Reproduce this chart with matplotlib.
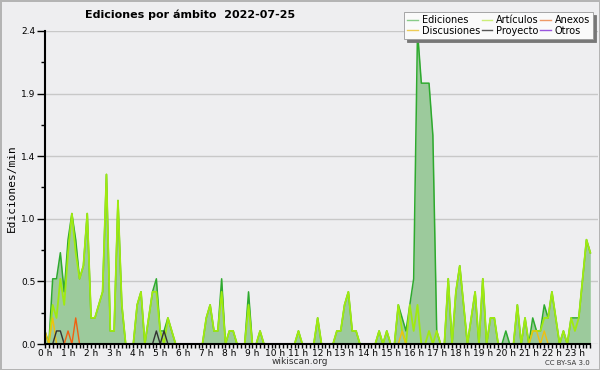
import numpy as np
import matplotlib
matplotlib.use("Agg")
import matplotlib.pyplot as plt
from matplotlib.lines import Line2D
from matplotlib.ticker import FixedLocator, FormatStrFormatter, MultipleLocator

# edits per minute, 10-minute buckets, 2022-07-25 (one row per hour)
ediciones = [
    0.1, 0.0, 0.5, 0.5, 0.7, 0.4,
    0.8, 1.0, 0.8, 0.5, 0.6, 1.0,
    0.2, 0.2, 0.3, 0.4, 1.3, 0.1,
    0.1, 1.1, 0.3, 0.0, 0.0, 0.0,
    0.3, 0.4, 0.0, 0.2, 0.4, 0.5,
    0.1, 0.1, 0.2, 0.1, 0.0, 0.0,
    0.0, 0.0, 0.0, 0.0, 0.0, 0.0,
    0.2, 0.3, 0.1, 0.1, 0.5, 0.0,
    0.1, 0.1, 0.0, 0.0, 0.0, 0.4,
    0.0, 0.0, 0.1, 0.0, 0.0, 0.0,
    0.0, 0.0, 0.0, 0.0, 0.0, 0.0,
    0.1, 0.0, 0.0, 0.0, 0.0, 0.2,
    0.0, 0.0, 0.0, 0.0, 0.1, 0.1,
    0.3, 0.4, 0.1, 0.1, 0.0, 0.0,
    0.0, 0.0, 0.0, 0.1, 0.0, 0.1,
    0.0, 0.0, 0.3, 0.2, 0.1, 0.3,
    0.5, 2.4, 2.0, 2.0, 2.0, 1.6,
    0.1, 0.0, 0.0, 0.5, 0.0, 0.4,
    0.6, 0.3, 0.0, 0.2, 0.4, 0.0,
    0.5, 0.0, 0.2, 0.2, 0.0, 0.0,
    0.1, 0.0, 0.0, 0.3, 0.0, 0.2,
    0.0, 0.2, 0.1, 0.1, 0.3, 0.2,
    0.4, 0.2, 0.0, 0.1, 0.0, 0.2,
    0.2, 0.2, 0.5, 0.8, 0.7,
]
articulos = [
    0.0, 0.0, 0.3, 0.2, 0.5, 0.3,
    0.7, 1.0, 0.7, 0.5, 0.6, 1.0,
    0.2, 0.2, 0.3, 0.4, 1.3, 0.1,
    0.1, 1.1, 0.3, 0.0, 0.0, 0.0,
    0.3, 0.4, 0.0, 0.2, 0.4, 0.4,
    0.1, 0.0, 0.2, 0.1, 0.0, 0.0,
    0.0, 0.0, 0.0, 0.0, 0.0, 0.0,
    0.2, 0.3, 0.1, 0.1, 0.4, 0.0,
    0.1, 0.1, 0.0, 0.0, 0.0, 0.3,
    0.0, 0.0, 0.1, 0.0, 0.0, 0.0,
    0.0, 0.0, 0.0, 0.0, 0.0, 0.0,
    0.1, 0.0, 0.0, 0.0, 0.0, 0.2,
    0.0, 0.0, 0.0, 0.0, 0.1, 0.1,
    0.3, 0.4, 0.1, 0.1, 0.0, 0.0,
    0.0, 0.0, 0.0, 0.1, 0.0, 0.1,
    0.0, 0.0, 0.3, 0.1, 0.0, 0.3,
    0.1, 0.3, 0.0, 0.0, 0.1, 0.0,
    0.1, 0.0, 0.0, 0.5, 0.0, 0.4,
    0.6, 0.3, 0.0, 0.2, 0.4, 0.0,
    0.5, 0.0, 0.2, 0.2, 0.0, 0.0,
    0.0, 0.0, 0.0, 0.3, 0.0, 0.2,
    0.0, 0.1, 0.1, 0.1, 0.2, 0.2,
    0.4, 0.2, 0.0, 0.1, 0.0, 0.2,
    0.1, 0.2, 0.5, 0.8, 0.7,
]
discusiones = [
    0.1, 0.0, 0.2, 0.0, 0.0, 0.0,
    0.0, 0.0, 0.0, 0.0, 0.0, 0.0,
    0.0, 0.0, 0.0, 0.0, 0.0, 0.0,
    0.0, 0.0, 0.0, 0.0, 0.0, 0.0,
    0.0, 0.0, 0.0, 0.0, 0.0, 0.0,
    0.0, 0.0, 0.0, 0.0, 0.0, 0.0,
    0.0, 0.0, 0.0, 0.0, 0.0, 0.0,
    0.0, 0.0, 0.0, 0.0, 0.0, 0.0,
    0.0, 0.0, 0.0, 0.0, 0.0, 0.0,
    0.0, 0.0, 0.0, 0.0, 0.0, 0.0,
    0.0, 0.0, 0.0, 0.0, 0.0, 0.0,
    0.0, 0.0, 0.0, 0.0, 0.0, 0.0,
    0.0, 0.0, 0.0, 0.0, 0.0, 0.0,
    0.0, 0.0, 0.0, 0.0, 0.0, 0.0,
    0.0, 0.0, 0.0, 0.0, 0.0, 0.0,
    0.0, 0.0, 0.0, 0.1, 0.0, 0.0,
    0.0, 0.0, 0.0, 0.0, 0.0, 0.0,
    0.0, 0.0, 0.0, 0.0, 0.0, 0.0,
    0.0, 0.0, 0.0, 0.0, 0.0, 0.0,
    0.0, 0.0, 0.0, 0.0, 0.0, 0.0,
    0.0, 0.0, 0.0, 0.0, 0.0, 0.0,
    0.0, 0.1, 0.1, 0.0, 0.1, 0.0,
    0.0, 0.0, 0.0, 0.0, 0.0, 0.0,
    0.0, 0.0, 0.0, 0.0, 0.0,
]
proyecto = [
    0.0, 0.0, 0.0, 0.1, 0.1, 0.0,
    0.0, 0.0, 0.0, 0.0, 0.0, 0.0,
    0.0, 0.0, 0.0, 0.0, 0.0, 0.0,
    0.0, 0.0, 0.0, 0.0, 0.0, 0.0,
    0.0, 0.0, 0.0, 0.0, 0.0, 0.1,
    0.0, 0.1, 0.0, 0.0, 0.0, 0.0,
] + [0.0] * 107
anexos = [
    0.0, 0.0, 0.0, 0.0, 0.0, 0.0,
    0.1, 0.0, 0.2, 0.0, 0.0, 0.0,
] + [0.0] * 131
otros = [0.0] * 143

hours = list(range(24))
hour_labels = [f"{h} h" for h in hours]

bg = "#eeeef0"
fig = plt.figure(figsize=(6, 3.7), dpi=100, facecolor=bg, edgecolor="#b4b4b4", linewidth=2)
ax = fig.add_axes([45 / 600, 26 / 370, 553 / 600, 313 / 370])
ax.set_facecolor(bg)

x = np.arange(len(ediciones))
ax.fill_between(x, ediciones, 0, color="#9cca9c", lw=0, zorder=1)
ax.plot(x, ediciones, color="#2eaa2e", lw=1.1, zorder=3)
ax.plot(x, articulos, color="#a0ea10", lw=1.3, zorder=4)
ax.plot(x, discusiones, color="#f0c010", lw=1.0, zorder=5)
ax.plot(x, proyecto, color="#333333", lw=1.0, zorder=5)
ax.plot(x, anexos, color="#f06010", lw=1.0, zorder=5)
ax.plot(x, otros, color="#9040e0", lw=1.0, zorder=2)

ax.set_xlim(0, 144)
ax.set_ylim(0, 2.4)

ax.yaxis.set_major_locator(FixedLocator([0, 0.48, 0.96, 1.44, 1.92, 2.4]))
ax.yaxis.set_major_formatter(FormatStrFormatter("%.1f"))
ax.yaxis.set_minor_locator(MultipleLocator(0.24))
ax.set_xticks([h * 6 for h in hours])
ax.set_xticklabels(hour_labels)
ax.xaxis.set_minor_locator(FixedLocator(list(range(0, 143))))

ax.tick_params(axis="both", which="both", direction="out", color="black", width=1)
ax.tick_params(axis="x", which="both", length=3, pad=0.5, labelsize=6.5)
ax.tick_params(axis="y", which="major", length=6, pad=1, labelsize=6.5)
ax.tick_params(axis="y", which="minor", length=3)

ax.grid(axis="y", which="major", color="#c8c8c8", lw=1)
ax.set_axisbelow(True)
for s in ["top", "right"]:
    ax.spines[s].set_visible(False)
for s in ["left", "bottom"]:
    ax.spines[s].set_linewidth(1.5)
    ax.spines[s].set_zorder(6)
ax.spines["bottom"].set_bounds(0, 142)

fig.text(85 / 600, 1 - 15 / 370, "Ediciones por ámbito  2022-07-25", fontsize=8,
         fontweight="bold", ha="left", va="center")
fig.text(12 / 600, 1 - 188 / 370, "Ediciones/min", rotation=90, fontsize=8,
         family="DejaVu Sans Mono", ha="center", va="center")
fig.text(300 / 600, 1 - 362 / 370, "wikiscan.org", fontsize=6.5, color="#333333",
         ha="center", va="center")
fig.text(590 / 600, 1 - 363 / 370, "CC BY-SA 3.0", fontsize=5, color="#333333",
         ha="right", va="center")

handles = [
    Line2D([], [], color="#88cc88", lw=1),
    Line2D([], [], color="#eecc55", lw=1),
    Line2D([], [], color="#ccee77", lw=1),
    Line2D([], [], color="#555555", lw=1),
    Line2D([], [], color="#ee9966", lw=1),
    Line2D([], [], color="#9955dd", lw=1),
]
labels = ["Ediciones", "Discusiones", "Artículos", "Proyecto", "Anexos", "Otros"]
leg = fig.legend(handles, labels, ncol=3, loc="upper right",
                 bbox_to_anchor=(593 / 600, 1 - 12 / 370), fontsize=7,
                 handlelength=1.1, handletextpad=0.4, columnspacing=0.15,
                 labelspacing=0.1, borderpad=0.3, borderaxespad=0,
                 frameon=True, fancybox=False, shadow={"color": "#777777", "alpha": 1})
leg.get_frame().set_facecolor("#fafafa")
leg.get_frame().set_edgecolor("#999999")
leg.get_frame().set_linewidth(0.6)

fig.savefig("out.png", dpi=100, facecolor=bg)
